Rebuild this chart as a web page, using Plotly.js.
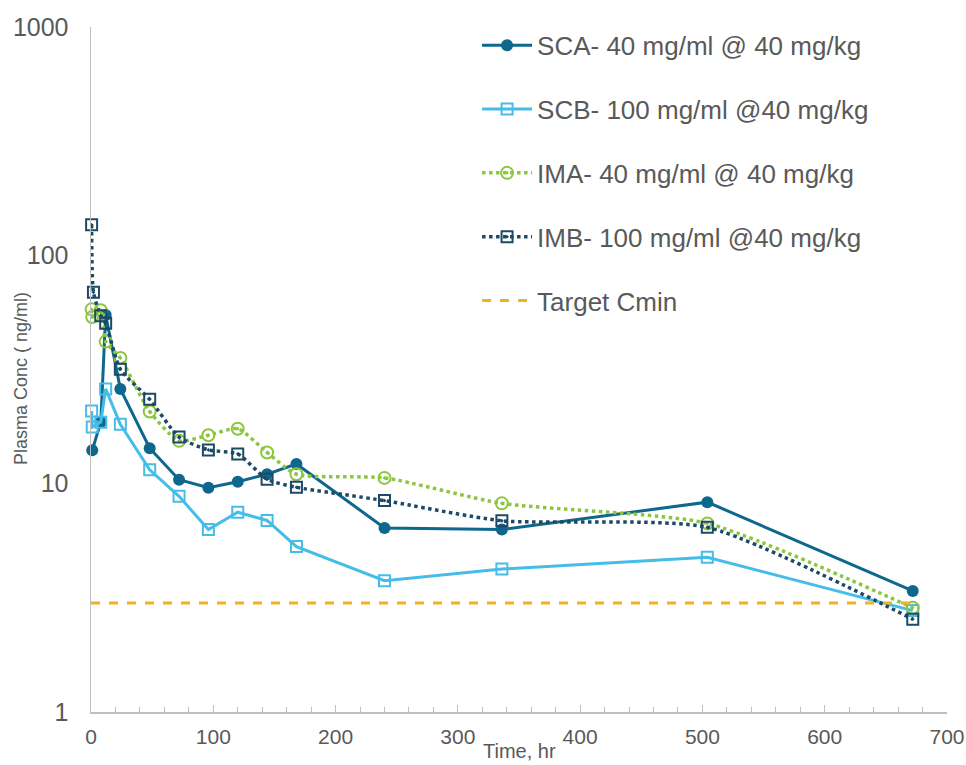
<!DOCTYPE html>
<html>
<head>
<meta charset="utf-8">
<script src="https://cdn.plot.ly/plotly-3.0.1.min.js"></script>
<style>html,body{margin:0;padding:0;background:#fff;}#chart{width:966px;height:765px;}</style>
</head>
<body>
<div id="chart"></div>
<script>
// Time points (hr)
const scaTime = [1, 8, 12, 24, 48, 72, 96, 120, 144, 168, 240, 336, 504, 672];
const scaConc = [14.0, 18.6, 54.8, 26.0, 14.3, 10.4, 9.6, 10.2, 11.0, 12.2, 6.4, 6.3, 8.3, 3.39];

const scbTime = [0.5, 1, 8, 12, 24, 48, 72, 96, 120, 144, 168, 240, 336, 504, 672];
const scbConc = [20.8, 17.7, 18.6, 26.0, 18.2, 11.5, 8.8, 6.3, 7.5, 6.9, 5.3, 3.76, 4.23, 4.76, 2.78];

const imaTime = [0.5, 1, 8, 12, 24, 48, 72, 96, 120, 144, 168, 240, 336, 504, 672];
const imaConc = [58.0, 53.7, 57.5, 41.9, 35.5, 20.7, 15.4, 16.3, 17.4, 13.7, 11.0, 10.6, 8.2, 6.7, 2.86];

const imbTime = [0.5, 2, 8, 12, 24, 48, 72, 96, 120, 144, 168, 240, 336, 504, 672];
const imbConc = [136, 68.9, 54.4, 50.4, 31.7, 23.4, 16.0, 14.05, 13.5, 10.45, 9.64, 8.43, 6.88, 6.44, 2.55];

const targetTime = [0, 672];
const targetConc = [3.0, 3.0];

const seriesNames = [
  "SCA- 40 mg/ml @ 40 mg/kg",
  "SCB- 100 mg/ml @40 mg/kg",
  "IMA- 40 mg/ml @ 40 mg/kg",
  "IMB- 100 mg/ml @40 mg/kg",
  "Target Cmin"
];
const xTitle = "Time, hr";
const yTitle = "Plasma Conc ( ng/ml)";
const yTickVals = [1, 10, 100, 1000];
const yTickText = ["1", "10", "100", "1000"];

const cSCA = "#0E678C", cSCB = "#45BDE8", cIMA = "#8CC63F", cIMB = "#1C4A66", cT = "#F2B124";

const traces = [
  {x: scaTime, y: scaConc, name: seriesNames[0], legendgroup: "a", type: "scatter", mode: "lines+markers",
   line: {color: cSCA, width: 3}, marker: {symbol: "circle", size: 12, color: cSCA}, cliponaxis: false},
  {x: scbTime, y: scbConc, name: seriesNames[1], legendgroup: "b", type: "scatter", mode: "lines+markers",
   line: {color: cSCB, width: 3}, marker: {symbol: "square-open", size: 11, color: cSCB, line: {width: 2, color: cSCB}}, cliponaxis: false},
  {x: imaTime, y: imaConc, name: seriesNames[2], legendgroup: "c", type: "scatter", mode: "lines+markers",
   line: {color: cIMA, width: 3.5, dash: "dot", shape: "spline", smoothing: 0.6}, marker: {symbol: "circle-open-dot", size: 12, color: cIMA, line: {width: 2, color: cIMA}}, cliponaxis: false},
  {x: imbTime, y: imbConc, name: seriesNames[3], legendgroup: "d", type: "scatter", mode: "lines+markers",
   line: {color: cIMB, width: 3.5, dash: "dot", shape: "spline", smoothing: 0.6}, marker: {symbol: "square-open-dot", size: 11, color: cIMB, line: {width: 2, color: cIMB}}, cliponaxis: false},
  {x: targetTime, y: targetConc, name: seriesNames[4], legendgroup: "e", type: "scatter", mode: "lines",
   line: {color: cT, width: 3, dash: "dash"}}
];

const font = "Liberation Sans, Arial, sans-serif";
const layout = {
  width: 966, height: 765,
  margin: {l: 91, r: 19, t: 27, b: 53},
  paper_bgcolor: "#fff", plot_bgcolor: "#fff",
  font: {family: font, color: "#595959"},
  showlegend: true,
  legend: {x: 0.451, y: 1.0075, xanchor: "left", yanchor: "top", traceorder: "grouped", tracegroupgap: 27,
           font: {size: 26, color: "#595959", family: font}, bgcolor: "rgba(0,0,0,0)", itemwidth: 50},
  xaxis: {
    range: [0, 700], dtick: 100, tick0: 0,
    showgrid: false, zeroline: false,
    showline: true, linecolor: "#BFBFBF", linewidth: 1.5,
    ticks: "inside", ticklen: 7, tickcolor: "#BFBFBF", tickwidth: 1,
    minor: {dtick: 20, ticks: "inside", ticklen: 5, tickcolor: "#BFBFBF", tickwidth: 1, showgrid: false},
    tickfont: {size: 21, color: "#595959", family: font},
    ticklabelstandoff: 5
  },
  yaxis: {
    type: "log", range: [0, 3],
    tickvals: yTickVals, ticktext: yTickText,
    showgrid: false, zeroline: false,
    showline: true, linecolor: "#BFBFBF", linewidth: 1.5,
    ticks: "",
    tickfont: {size: 25, color: "#595959", family: font},
    ticklabelstandoff: 16
  },
  annotations: [
    {text: xTitle, xref: "paper", yref: "paper", x: 0.5, y: -0.0569, xanchor: "center", yanchor: "middle",
     showarrow: false, font: {size: 20, color: "#595959", family: font}},
    {text: yTitle, xref: "paper", yref: "paper", x: -0.0818, y: 0.4876, xanchor: "center", yanchor: "middle",
     textangle: -90, showarrow: false, font: {size: 18, color: "#595959", family: font}}
  ]
};

Plotly.newPlot("chart", traces, layout, {displayModeBar: false, staticPlot: true});
</script>
</body>
</html>
